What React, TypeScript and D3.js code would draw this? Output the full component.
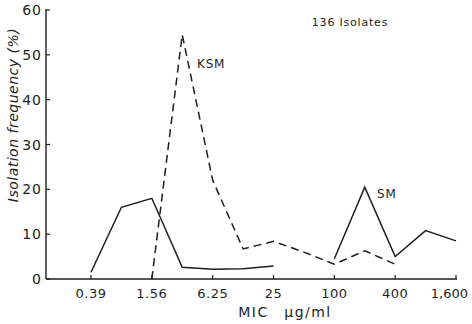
import * as d3 from "d3";

// MIC dilution steps (µg/ml) and isolation frequency (%) per step
const mic = [0.39, 0.78, 1.56, 3.12, 6.25, 12.5, 25, 50, 100, 200, 400, 800, 1600];
const smFreq: (number | null)[] = [1.5, 16, 18, 2.6, 2.2, 2.3, 2.9, null, 4.5, 20.5, 5, 10.8, 8.5];
const ksmFreq: (number | null)[] = [null, null, 0, 54.5, 22, 6.7, 8.4, 6.0, 3.3, 6.3, 3.3, null, null];

const xTickValues = [0.39, 1.56, 6.25, 25, 100, 400, 1600];
const xTickLabels = ["0.39", "1.56", "6.25", "25", "100", "400", "1,600"];
const yTickValues = [0, 10, 20, 30, 40, 50, 60];

const W = 472;
const H = 324;
const axisX = 46;
const font = "'DejaVu Sans', Verdana, sans-serif";
const ink = "#1e1e1e";

export default function App() {
  const x = d3.scaleLog().base(2).domain([0.39, 1600]).range([91, 456]);
  const y = d3.scaleLinear().domain([0, 60]).range([279, 10]);

  const line = d3
    .line<number | null>()
    .defined((d) => d != null)
    .x((_, i) => x(mic[i]))
    .y((d) => y(d as number));

  return (
    <svg
      width={W}
      height={H}
      style={{ position: "absolute", left: 0, top: 0, background: "#fff" }}
      fontFamily={font}
    >
      {/* axes */}
      <line x1={axisX} x2={x(1600) + 1} y1={y(0)} y2={y(0)} stroke={ink} strokeWidth={1.4} />
      <line x1={axisX} x2={axisX} y1={y(60) - 1} y2={y(0)} stroke={ink} strokeWidth={1.4} />

      {yTickValues.map((v) => (
        <g key={v}>
          <line x1={axisX} x2={axisX + 4} y1={y(v)} y2={y(v)} stroke={ink} strokeWidth={1.2} />
          <text x={axisX - 4} y={y(v) + 5} textAnchor="end" fontSize={14} fill={ink} letterSpacing={1}>
            {v}
          </text>
        </g>
      ))}

      {xTickValues.map((v, i) => {
        const last = i === xTickValues.length - 1;
        return (
          <g key={v}>
            <line x1={x(v)} x2={x(v)} y1={y(0)} y2={y(0) - 4} stroke={ink} strokeWidth={1.2} />
            <text
              x={last ? W - 4 : x(v)}
              y={298}
              textAnchor={last ? "end" : "middle"}
              fontSize={13}
              fill={ink}
              letterSpacing={last ? 0 : 0.5}
            >
              {xTickLabels[i]}
            </text>
          </g>
        );
      })}

      <text x={285} y={317} textAnchor="middle" fontSize={14} fill={ink} letterSpacing={1.5}>
        MIC{"\u2003"}µg/ml
      </text>

      <text
        transform="translate(18,115) rotate(-90)"
        textAnchor="middle"
        fontSize={14}
        fill={ink}
        fontStyle="italic"
        letterSpacing={0.5}
      >
        Isolation frequency (%)
      </text>

      <text x={350} y={26} textAnchor="middle" fontSize={11} fill={ink} letterSpacing={0.8}>
        136 Isolates
      </text>

      {/* series */}
      <path d={line(ksmFreq) ?? ""} fill="none" stroke={ink} strokeWidth={1.5} strokeDasharray="8,5" />
      <path d={line(smFreq) ?? ""} fill="none" stroke={ink} strokeWidth={1.5} />

      <text x={197} y={68} fontSize={12} fill={ink} letterSpacing={0.8}>
        KSM
      </text>
      <text x={377} y={198} fontSize={12} fill={ink} letterSpacing={0.8}>
        SM
      </text>
    </svg>
  );
}
